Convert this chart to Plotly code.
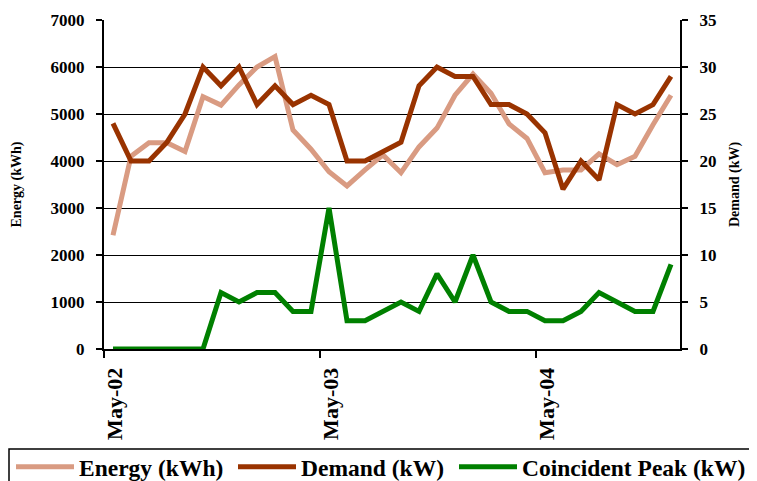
import plotly.graph_objects as go

months = ["May-02","Jun-02","Jul-02","Aug-02","Sep-02","Oct-02","Nov-02","Dec-02",
          "Jan-03","Feb-03","Mar-03","Apr-03","May-03","Jun-03","Jul-03","Aug-03",
          "Sep-03","Oct-03","Nov-03","Dec-03","Jan-04","Feb-04","Mar-04","Apr-04",
          "May-04","Jun-04","Jul-04","Aug-04","Sep-04","Oct-04","Nov-04","Dec-04"]
energy = [2420, 4100, 4390, 4390, 4200, 5370, 5190, 5620, 6000, 6220, 4660, 4250,
          3770, 3470, 3810, 4130, 3750, 4300, 4700, 5400, 5850, 5440, 4790, 4480,
          3750, 3810, 3810, 4150, 3920, 4100, 4770, 5400]
demand = [24, 20, 20, 22, 25, 30, 28, 30, 26, 28, 26, 27,
          26, 20, 20, 21, 22, 28, 30, 29, 29, 26, 26, 25,
          23, 17, 20, 18, 26, 25, 26, 29]
peak = [0, 0, 0, 0, 0, 0, 6, 5, 6, 6, 4, 4,
        15, 3, 3, 4, 5, 4, 8, 5, 10, 5, 4, 4,
        3, 3, 4, 6, 5, 4, 4, 9]
tick_labels = ["May-02", "May-03", "May-04"]
tick_index = [0, 12, 24]

x = list(range(len(months)))
FONT = "Liberation Serif"

# page pixel geometry of the plot area (browser body has an 8px margin)
PX_L, PX_R, PX_T, PX_B = 104, 680, 20, 349


def px_x(p):
    return (p - PX_L) / (PX_R - PX_L)


def px_y(p):
    return (PX_B - p) / (PX_B - PX_T)


fig = go.Figure()
fig.add_trace(go.Scatter(x=x, y=energy, name="Energy (kWh)", mode="lines",
                         line=dict(color="#D99B82", width=5), text=months, yaxis="y",
                         legend="legend"))
fig.add_trace(go.Scatter(x=x, y=demand, name="Demand (kW)", mode="lines",
                         line=dict(color="#993300", width=5), text=months, yaxis="y2",
                         legend="legend2"))
fig.add_trace(go.Scatter(x=x, y=peak, name="Coincident Peak (kW)", mode="lines",
                         line=dict(color="#008000", width=5), text=months, yaxis="y2",
                         legend="legend3"))

fig.add_shape(type="rect", xref="paper", yref="paper",
              x0=px_x(9), x1=px_x(770), y0=px_y(449), y1=px_y(500),
              line=dict(color="black", width=1.5), fillcolor="rgba(0,0,0,0)", layer="above")

LEG_FONT = dict(family=FONT, size=23.5, weight="bold", color="black")
TEXT_OFF = 69  # distance from legend x to text start (px)


def leg(text_px):
    return dict(orientation="h", x=px_x(text_px - TEXT_OFF), y=px_y(445),
                xanchor="left", yanchor="top", borderwidth=0, itemwidth=58,
                bgcolor="rgba(0,0,0,0)", font=LEG_FONT)


fig.update_layout(
    width=749, height=473,
    margin=dict(l=PX_L - 8, r=757 - PX_R, t=PX_T - 8, b=481 - PX_B, autoexpand=False),
    plot_bgcolor="white", paper_bgcolor="white",
    font=dict(family=FONT, color="black"),
    xaxis=dict(range=[-0.5, 31.5], tickvals=[i - 0.5 for i in tick_index], ticktext=tick_labels,
               tickangle=-90, ticks="outside", ticklen=7, tickwidth=1.5, tickcolor="black",
               showline=True, linecolor="black", linewidth=2, showgrid=False, zeroline=False,
               ticklabelshift=11, ticklabelstandoff=1,
               tickfont=dict(family=FONT, size=22, weight="bold", color="black")),
    yaxis=dict(range=[0, 7000], dtick=1000, tickformat="d", showgrid=True, gridcolor="black",
               gridwidth=1.2, showline=True, linecolor="black", linewidth=2, zeroline=False,
               ticks="outside", ticklen=6, tickwidth=1.5, tickcolor="black",
               ticklabelstandoff=8,
               tickfont=dict(family=FONT, size=17, weight="bold", color="black"),
               title=dict(text="Energy (kWh)", standoff=26,
                          font=dict(family=FONT, size=14, weight="bold", color="black"))),
    yaxis2=dict(range=[0, 35], dtick=5, overlaying="y", side="right", showgrid=False,
                showline=True, linecolor="black", linewidth=2, zeroline=False,
                ticks="outside", ticklen=6, tickwidth=1.5, tickcolor="black",
                ticklabelstandoff=8,
                tickfont=dict(family=FONT, size=17, weight="bold", color="black"),
                title=dict(text="Demand (kW)", standoff=14,
                           font=dict(family=FONT, size=14, weight="bold", color="black"))),
    showlegend=True,
    legend=leg(80),
    legend2=leg(302),
    legend3=leg(523),
)

fig.write_html("out.html")
